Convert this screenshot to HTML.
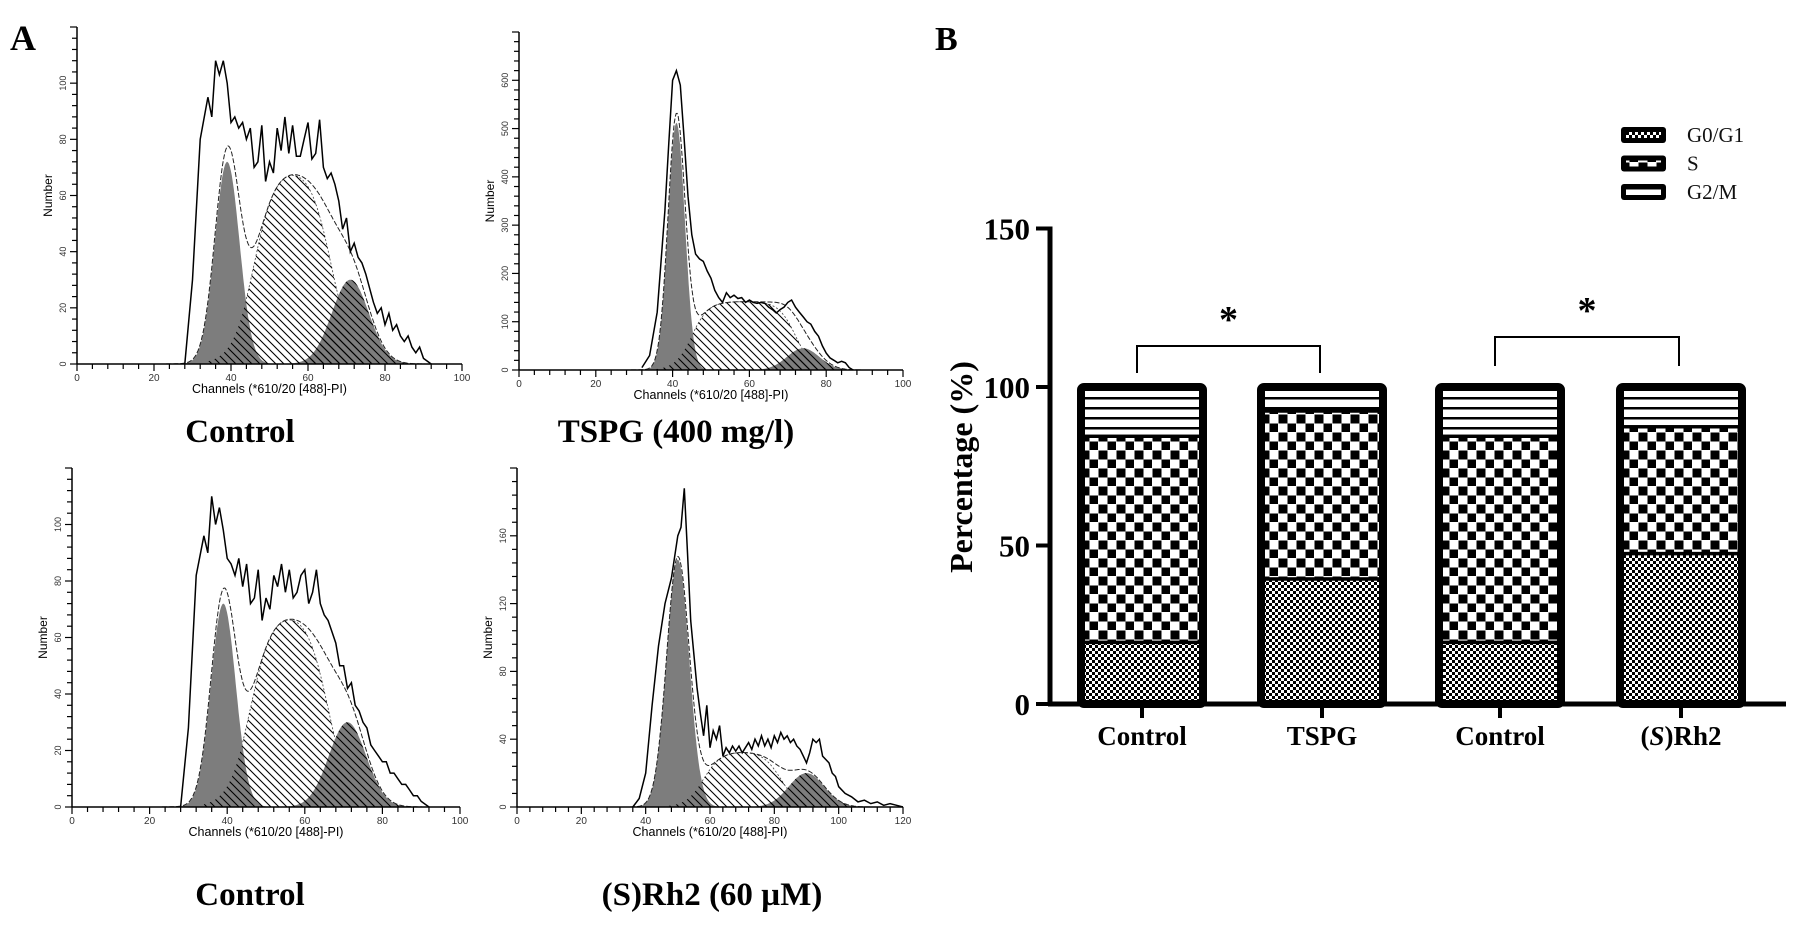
<!DOCTYPE html>
<html><head><meta charset="utf-8"><style>
html,body{margin:0;padding:0;background:#fff;}
svg{display:block;}
.serifb{font-family:"Liberation Serif",serif;font-weight:bold;}
.sans{font-family:"Liberation Sans",sans-serif;}
</style></head><body>
<svg id="fig" width="1795" height="928" viewBox="0 0 1795 928" xmlns="http://www.w3.org/2000/svg">
<defs>
<pattern id="hatch" width="8" height="8" patternUnits="userSpaceOnUse"><path d="M-2,-2 L10,10 M-2,6 L2,10 M6,-2 L10,2" stroke="#000" stroke-width="1.1"/></pattern>
<pattern id="fine" width="6" height="6" patternUnits="userSpaceOnUse"><rect width="6" height="6" fill="#fff"/><rect width="3" height="3" fill="#000"/><rect x="3" y="3" width="3" height="3" fill="#000"/></pattern>
<pattern id="check" width="18" height="18" patternUnits="userSpaceOnUse"><rect width="18" height="18" fill="#fff"/><rect x="0.5" y="0.5" width="9" height="9" fill="#000"/><rect x="9.5" y="9.5" width="9" height="9" fill="#000"/></pattern>
<pattern id="hlines" width="10" height="10" patternUnits="userSpaceOnUse"><rect width="10" height="10" fill="#fff"/><rect y="7" width="10" height="2.5" fill="#000"/></pattern>
</defs>
<text x="10" y="50" class="serifb" font-size="36">A</text>
<text x="935" y="50" class="serifb" font-size="34">B</text>
<g id="hists"></g>
<g id="barchart"></g>
</svg>
<script>
// ---------- Panel A histogram data ----------
const p1Ch = [28,30,32,34,35,36,37,38,39,40,41,42,43,44,45,46,47,48,49,50,51,52,53,54,55,56,57,58,59,60,61,62,63,64,65,66,67,68,69,70,71,72,73,74,75,76,77,78,79,80,81,82,83,84,85,86,87,88,89,90,92];
const p1Counts = [0,30,80,95,88,108,103,108,100,86,88,84,86,80,84,70,72,85,65,72,68,84,76,88,75,85,74,74,80,86,73,75,87,70,66,68,64,58,48,52,40,43,38,36,32,27,22,18,20,14,18,12,14,10,8,10,6,4,6,2,0];
const p3Ch = [28,30,32,34,35,36,37,38,39,40,41,42,43,44,45,46,47,48,49,50,51,52,53,54,55,56,57,58,59,60,61,62,63,64,65,66,67,68,69,70,71,72,73,74,75,76,77,78,79,80,81,82,83,84,85,86,87,88,89,90,92];
const p3Counts = [0,28,82,96,90,110,100,106,98,88,86,82,88,78,86,72,74,84,66,74,70,82,78,86,76,84,74,76,82,84,72,76,84,72,68,66,62,58,50,50,42,44,36,34,30,28,22,20,18,16,16,12,12,10,8,8,6,4,4,2,0];
const p2Ch = [32,34,36,38,39,40,41,42,43,44,45,46,47,48,49,50,51,52,53,54,55,56,57,58,59,60,61,62,63,64,65,66,67,68,69,70,71,72,73,74,75,76,77,78,79,80,81,82,83,84,85,86,87];
const p2Counts = [5,30,120,330,470,600,620,590,480,360,280,240,230,225,205,190,165,150,140,160,150,155,148,150,140,145,140,138,140,138,130,125,118,125,130,140,145,130,120,110,100,95,80,70,50,35,25,20,15,18,15,5,0];
const p4Ch = [36,38,40,42,44,46,48,50,51,52,53,54,55,56,57,58,59,60,61,62,63,64,65,66,67,68,69,70,71,72,73,74,75,76,77,78,79,80,81,82,83,84,85,86,87,88,89,90,91,92,93,94,95,96,97,98,99,100,102,104,106,108,110,112,114,116,118,120];
const p4Counts = [0,5,20,60,95,120,135,160,165,188,150,110,90,70,55,42,60,35,45,40,48,30,35,32,36,33,36,32,35,38,34,40,36,42,36,40,35,42,38,44,40,42,38,40,36,34,30,26,32,40,38,40,30,28,26,20,18,12,8,6,3,4,2,3,1,2,1,0];
// component fit parameters: [center, sd, height] for G1/G2, [start, end, height, edge] for S
const p1G1 = [39, 3.2, 72], p1S = [46, 66, 71, 2.8], p1G2 = [71, 4.8, 30];
const p2G1 = [41, 2.2, 512], p2S = [45, 72, 142, 2.2], p2G2 = [74, 4.2, 45];
const p3G1 = [39, 3.2, 72], p3S = [46, 66, 70, 2.8], p3G2 = [71, 4.8, 30];
const p4G1 = [50, 3.5, 146], p4S = [58, 82, 33, 2.8], p4G2 = [90, 5.5, 20];

const NS = "http://www.w3.org/2000/svg";
function mk(tag, attrs, parent){const e=document.createElementNS(NS,tag);for(const k in attrs)e.setAttribute(k,attrs[k]);parent.appendChild(e);return e;}
const gauss=(x,p)=>p[2]*Math.exp(-0.5*Math.pow((x-p[0])/p[1],2));
const sig=z=>1/(1+Math.exp(-z));
const splat=(x,p)=>p[2]*sig((x-p[0])/p[3])*sig((p[1]-x)/p[3]);

function histogram(cfg){
  const g=mk('g',{},document.getElementById('hists'));
  
  
  const sx=v=>cfg.ox+v/cfg.xmax*cfg.w;
  const sy=v=>cfg.oy-v/cfg.ymax*(cfg.oy-cfg.top);
  const area=(fn,lo,hi)=>{let d='M'+sx(lo)+','+sy(0);for(let x=lo;x<=hi;x+=0.25)d+=' L'+sx(x).toFixed(1)+','+sy(fn(x)).toFixed(1);return d+' L'+sx(hi)+','+sy(0)+'Z';};
  const lo=cfg.G1[0]-4*cfg.G1[1]-3, hi=cfg.G2[0]+4*cfg.G2[1];
  const sArea=mk('path',{d:area(x=>splat(x,cfg.S),cfg.S[0]-12,cfg.S[1]+12),fill:'#fff',stroke:'#444','stroke-width':0.8,'stroke-dasharray':'2,2'},g);
  
  
  const g1=mk('path',{d:area(x=>gauss(x,cfg.G1),cfg.G1[0]-4*cfg.G1[1],cfg.G1[0]+4*cfg.G1[1]),fill:'#7d7d7d'},g);
  
  
  const g2=mk('path',{d:area(x=>gauss(x,cfg.G2),cfg.G2[0]-4*cfg.G2[1],cfg.G2[0]+4*cfg.G2[1]),fill:'#7d7d7d'},g);
  
  
  mk('path',{d:area(x=>splat(x,cfg.S),cfg.S[0]-12,cfg.S[1]+12),fill:'url(#hatch)'},g);
  mk('path',{d:area(x=>gauss(x,cfg.G2),cfg.G2[0]-4*cfg.G2[1],cfg.G2[0]+4*cfg.G2[1]),fill:'url(#hatch)'},g);
  let d='';for(let x=lo;x<=hi;x+=0.25){const v=gauss(x,cfg.G1)+gauss(x,cfg.G2)+splat(x,cfg.S);d+=(d?' L':'M')+sx(x).toFixed(1)+','+sy(v).toFixed(1);}
  const env=mk('path',{d:d,fill:'none',stroke:'#222','stroke-width':1,'stroke-dasharray':'5,2'},g);
  
  
  let r='';cfg.ch.forEach((c,i)=>{r+=(i?' L':'M')+sx(c).toFixed(1)+','+sy(cfg.counts[i]).toFixed(1);});
  const raw=mk('path',{d:r,fill:'none',stroke:'#000','stroke-width':1.5},g);
  
  
  mk('line',{x1:cfg.ox,y1:cfg.oy,x2:cfg.ox+cfg.w,y2:cfg.oy,stroke:'#000','stroke-width':1.5},g);
  mk('line',{x1:cfg.ox,y1:cfg.oy,x2:cfg.ox,y2:cfg.top,stroke:'#000','stroke-width':1.5},g);
  for(let v=0;v<=cfg.xmax+0.01;v+=cfg.xminor){const maj=Math.abs(v/cfg.xmajor-Math.round(v/cfg.xmajor))<1e-6;mk('line',{x1:sx(v),y1:cfg.oy,x2:sx(v),y2:cfg.oy+(maj?7:5),stroke:'#000','stroke-width':1.2},g);
    if(maj){const t=mk('text',{x:sx(v),y:cfg.oy+17,'font-size':10,'text-anchor':'middle',class:'sans',fill:'#333'},g);t.textContent=Math.round(v);}}
  for(let v=0;v<=cfg.ymax;v+=cfg.yminor){const maj=Math.abs(v/cfg.ymajor-Math.round(v/cfg.ymajor))<1e-6;mk('line',{x1:cfg.ox,y1:sy(v),x2:cfg.ox-(maj?7:5),y2:sy(v),stroke:'#000','stroke-width':1.2},g);
    if(maj&&v<=cfg.ylabmax){const t=mk('text',{x:0,y:0,'font-size':9,'text-anchor':'middle',class:'sans',fill:'#333',transform:`translate(${cfg.ox-11},${sy(v)}) rotate(-90)`},g);t.textContent=Math.round(v);}}
  const yt=mk('text',{x:0,y:0,'font-size':12,'text-anchor':'middle',class:'sans',transform:`translate(${cfg.ox-25},${(cfg.oy+cfg.top)/2}) rotate(-90)`},g);
  yt.textContent='Number';
  
  
  const xt=mk('text',{x:cfg.ox+cfg.w/2,y:cfg.oy+29,'font-size':12.5,'text-anchor':'middle',class:'sans'},g);
  xt.textContent="Channels (*610/20 [488]-PI)";
  
  
  const ct=mk('text',{x:cfg.lx,y:cfg.ly,'font-size':cfg.lsize,'text-anchor':'middle',class:'serifb'},g);
  ct.innerHTML=cfg.label;
  
  
}
histogram({name:'histogram-control-1',ox:77,oy:364,w:385,top:27,xmax:100,ymax:120,xmajor:20,xminor:4,ymajor:20,yminor:4,ylabmax:100,G1:p1G1,S:p1S,G2:p1G2,ch:p1Ch,counts:p1Counts,lx:240,ly:442,lsize:33,label:'Control'});
histogram({name:'histogram-tspg',ox:519,oy:370,w:384,top:32,xmax:100,ymax:700,xmajor:20,xminor:4,ymajor:100,yminor:20,ylabmax:600,G1:p2G1,S:p2S,G2:p2G2,ch:p2Ch,counts:p2Counts,lx:676,ly:442,lsize:33,label:'TSPG (400 mg/l)'});
histogram({name:'histogram-control-2',ox:72,oy:807,w:388,top:468,xmax:100,ymax:120,xmajor:20,xminor:4,ymajor:20,yminor:4,ylabmax:100,G1:p3G1,S:p3S,G2:p3G2,ch:p3Ch,counts:p3Counts,lx:250,ly:905,lsize:33,label:'Control'});
histogram({name:'histogram-rh2',ox:517,oy:807,w:386,top:468,xmax:120,ymax:200,xmajor:20,xminor:4,ymajor:40,yminor:8,ylabmax:160,G1:p4G1,S:p4S,G2:p4G2,ch:p4Ch,counts:p4Counts,lx:712,ly:905,lsize:33,label:'(S)Rh2 (60 µM)'});

// ---------- Panel B stacked bars ----------
const categories = ['Control','TSPG','Control','(S)Rh2'];
const g0g1 = [20, 40, 20, 48];
const sPhase = [65, 53, 65, 40];
const g2m = [15, 7, 15, 12];
const yTicks = [0, 50, 100, 150];

const B = document.getElementById('barchart');
const AX = 1050, Y0 = 704, PXU = 3.17, XEND = 1786;
const yS = v => Y0 - v*PXU;
const band = 180, firstC = 1142;
const xC = i => firstC + i*band + (i===3? -1: 0) - (i===2? 2: 0);
const BW = 122;
const fills = ['url(#fine)','url(#check)','url(#hlines)'];
const segNames = ['g0-g1-segment','s-segment','g2-m-segment'];
categories.forEach((c,i)=>{
  const vals=[g0g1[i],sPhase[i],g2m[i]];
  let base=0;
  const x=xC(i)-BW/2;
  vals.forEach((v,k)=>{
    const r=mk('rect',{x:x,y:yS(base+v),width:BW,height:v*PXU,fill:fills[k]},B);
    
    
    base+=v;
    if(k<2){mk('line',{x1:x,x2:x+BW,y1:yS(base),y2:yS(base),stroke:'#000','stroke-width':7},B);}
  });
  const o=mk('rect',{x:x,y:yS(base),width:BW,height:base*PXU,fill:'none',stroke:'#000','stroke-width':8,rx:3},B);
  
  
  mk('line',{x1:xC(i),x2:xC(i),y1:Y0,y2:Y0+14,stroke:'#000','stroke-width':4},B);
  const t=mk('text',{x:xC(i),y:745,'font-size':27,'text-anchor':'middle',class:'serifb'},B);
  if(c==='(S)Rh2'){t.innerHTML='(<tspan font-style="italic">S</tspan>)Rh2';}else{t.textContent=c;}
  
  
});
mk('line',{x1:AX,y1:yS(150)-2,x2:AX,y2:Y0+2,stroke:'#000','stroke-width':5},B);
mk('line',{x1:AX-2,y1:Y0,x2:XEND,y2:Y0,stroke:'#000','stroke-width':5},B);
yTicks.forEach(v=>{
  mk('line',{x1:AX-14,x2:AX,y1:yS(v),y2:yS(v),stroke:'#000','stroke-width':4},B);
  const t=mk('text',{x:AX-20,y:yS(v)+11,'font-size':31,'text-anchor':'end',class:'serifb'},B);
  t.textContent=v;
  
  
});
const yt=mk('text',{x:0,y:0,'font-size':32,'text-anchor':'middle',class:'serifb',transform:'translate(972,467) rotate(-90)'},B);
yt.textContent='Percentage (%)';


[[0,1,346,373],[2,3,337,366]].forEach(b=>{
  const x1=xC(b[0])-5,x2=xC(b[1])-2;
  const p=mk('path',{d:`M${x1},${b[3]} L${x1},${b[2]} L${x2},${b[2]} L${x2},${b[3]}`,fill:'none',stroke:'#000','stroke-width':2},B);
  
  
  const s=mk('text',{x:(x1+x2)/2,y:b[2]-14,'font-size':38,'text-anchor':'middle',class:'serifb'},B);
  s.textContent='*';
  
  
});
const legendLabels=['G0/G1','S','G2/M'];
const legendPat=['url(#fine)','url(#check)','url(#hlines)'];
legendLabels.forEach((l,k)=>{
  const y=135+k*28.5;
  mk('rect',{x:1621,y:y-8,width:45,height:16,rx:3,fill:'#000'},B);
  const sw=mk('rect',{x:1626,y:y-3,width:35,height:6,fill:legendPat[k]},B);
  
  
  const t=mk('text',{x:1687,y:y+7,'font-size':21,fill:'#111','font-family':'Liberation Serif, serif'},B);
  t.textContent=l;
  
  
});
</script>
</body></html>
